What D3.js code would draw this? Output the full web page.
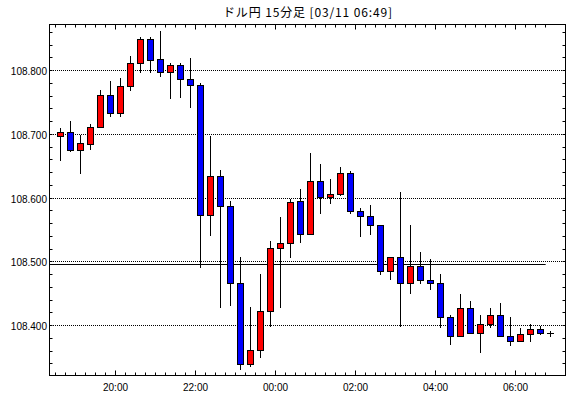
<!DOCTYPE html>
<html>
<head>
<meta charset="utf-8">
<script src="https://cdn.jsdelivr.net/npm/d3@7"></script>
<style>
  body { margin: 0; background: #fff; }
  text { font-family: "Liberation Sans", Arial, sans-serif; }
</style>
</head>
<body>
<div id="chart"></div>
<script>
// USD/JPY 15 minute candles, 03/10 18:30 - 03/11 06:45
var title = "ドル円 15分足 [03/11 06:49]";
var firstCandle = "2019-03-10T18:30:00Z";
var opens  = [108.698,108.703,108.676,108.685,108.712,108.762,108.734,108.775,108.811,108.849,
              108.818,108.797,108.809,108.786,108.778,108.574,108.634,108.587,108.467,108.339,
              108.361,108.422,108.522,108.529,108.595,108.543,108.627,108.602,108.606,108.640,
              108.580,108.571,108.558,108.486,108.507,108.466,108.493,108.472,108.467,108.414,
              108.383,108.428,108.389,108.402,108.417,108.383,108.375,108.386,108.395,108.388];
var highs  = [108.710,108.721,108.699,108.716,108.769,108.783,108.788,108.822,108.852,108.852,
              108.862,108.812,108.811,108.819,108.780,108.697,108.644,108.595,108.507,108.429,
              108.481,108.533,108.570,108.599,108.614,108.670,108.653,108.630,108.648,108.642,
              108.584,108.589,108.558,108.507,108.609,108.557,108.515,108.504,108.481,108.416,
              108.449,108.438,108.417,108.427,108.436,108.413,108.396,108.402,108.400,108.391];
var lows   = [108.660,108.674,108.640,108.677,108.711,108.728,108.729,108.770,108.798,108.798,
              108.791,108.757,108.759,108.743,108.492,108.542,108.429,108.432,108.332,108.336,
              108.351,108.400,108.429,108.508,108.531,108.543,108.577,108.592,108.605,108.577,
              108.541,108.544,108.481,108.473,108.400,108.451,108.466,108.458,108.398,108.371,
              108.383,108.389,108.359,108.397,108.383,108.370,108.375,108.375,108.386,108.384];
var closes = [108.703,108.676,108.686,108.712,108.762,108.734,108.775,108.811,108.849,108.817,
              108.797,108.809,108.786,108.777,108.573,108.635,108.587,108.467,108.339,108.361,
              108.422,108.522,108.529,108.593,108.543,108.627,108.602,108.606,108.640,108.580,
              108.571,108.558,108.486,108.507,108.466,108.493,108.472,108.467,108.414,108.383,
              108.428,108.389,108.402,108.417,108.383,108.375,108.386,108.395,108.389,108.388];
var priceLabels = [108.4, 108.5, 108.6, 108.7, 108.8];
var refLevel = 108.4958;
var refEnd = "2019-03-11T06:45:00Z";
var xStart = "2019-03-10T18:20:00Z", xEnd = "2019-03-11T07:14:00Z";
var yMin = 108.32157, yMax = 108.87216;

var W = 570, H = 398;
var margin = {left: 49, right: 565, top: 24, bottom: 375};

var svg = d3.select("#chart").append("svg")
    .attr("width", W)
    .attr("height", H);

var x = d3.scaleUtc()
    .domain([new Date(xStart), new Date(xEnd)])
    .range([margin.left, margin.right]);
var y = d3.scaleLinear()
    .domain([yMin, yMax])
    .range([margin.bottom + 0.5, margin.top + 0.5]);

function px(v) { return Math.floor(v) + 0.5; }

var t0 = new Date(firstCandle);
var candles = opens.map(function(o, i) {
    var t = d3.utcMinute.offset(t0, i * 15);
    return { t: t, mid: new Date(t.getTime() + 7.5 * 60000), o: o, h: highs[i], l: lows[i], c: closes[i] };
});

// grid
svg.append("g").selectAll("line")
    .data(priceLabels)
    .enter().append("line")
    .attr("x1", margin.left).attr("x2", margin.right + 1)
    .attr("y1", function(d) { return px(y(d)); })
    .attr("y2", function(d) { return px(y(d)); })
    .attr("stroke", "#000")
    .attr("stroke-dasharray", "1,1");

svg.append("line")
    .attr("x1", margin.left).attr("x2", x(new Date(refEnd)))
    .attr("y1", px(y(refLevel))).attr("y2", px(y(refLevel)))
    .attr("stroke", "#000");

// candles
var g = svg.append("g").selectAll("g")
    .data(candles)
    .enter().append("g");

g.append("line")
    .attr("x1", function(d) { return px(x(d.mid)); })
    .attr("x2", function(d) { return px(x(d.mid)); })
    .attr("y1", function(d) { return Math.round(y(d.h)); })
    .attr("y2", function(d) { return Math.round(y(d.l)) + 1; })
    .attr("stroke", "#000");

g.filter(function(d) { return Math.round(y(d.o)) != Math.round(y(d.c)); })
    .append("rect")
    .attr("x", function(d) { return px(x(d.mid)) - 3; })
    .attr("width", 6)
    .attr("y", function(d) { return Math.round(y(Math.max(d.o, d.c))) + 0.5; })
    .attr("height", function(d) { return Math.round(y(Math.min(d.o, d.c))) - Math.round(y(Math.max(d.o, d.c))); })
    .attr("fill", function(d) { return d.c > d.o ? "#ff0000" : "#0000ff"; })
    .attr("stroke", "#000");

g.filter(function(d) { return Math.round(y(d.o)) == Math.round(y(d.c)); })
    .append("line")
    .attr("x1", function(d) { return px(x(d.mid)) - 3.5; })
    .attr("x2", function(d) { return px(x(d.mid)) + 3.5; })
    .attr("y1", function(d) { return px(y(d.o)); })
    .attr("y2", function(d) { return px(y(d.o)); })
    .attr("stroke", "#000");

// frame and ticks
svg.append("rect")
    .attr("x", margin.left + 0.5).attr("y", margin.top + 0.5)
    .attr("width", margin.right - margin.left).attr("height", margin.bottom - margin.top)
    .attr("fill", "none")
    .attr("stroke", "#000");

var minorT = d3.utcMinute.every(15).range(new Date(firstCandle), new Date(new Date(refEnd).getTime() + 1));
var majorT = d3.utcHour.every(2).range(new Date(firstCandle), new Date(refEnd));
var minorP = d3.range(17, 44).map(function(k) { return k * 0.02 + 108; });

var ticks = svg.append("g").attr("stroke", "#000");
minorT.forEach(function(t) {
    var len = majorT.some(function(m) { return +m == +t; }) ? 5 : 3;
    ticks.append("line").attr("x1", px(x(t))).attr("x2", px(x(t)))
        .attr("y1", margin.bottom + 0.5).attr("y2", margin.bottom + 0.5 - len);
    ticks.append("line").attr("x1", px(x(t))).attr("x2", px(x(t)))
        .attr("y1", margin.top + 0.5).attr("y2", margin.top + 0.5 + len);
});
minorP.forEach(function(p) {
    if (y(p) < margin.top + 2 || y(p) > margin.bottom - 1) return;
    ticks.append("line").attr("x1", margin.left + 0.5).attr("x2", margin.left + 3.5)
        .attr("y1", px(y(p))).attr("y2", px(y(p)));
    ticks.append("line").attr("x1", margin.right + 0.5).attr("x2", margin.right - 2.5)
        .attr("y1", px(y(p))).attr("y2", px(y(p)));
});

// labels
var fmt = d3.format(".3f");
svg.append("g").selectAll("text")
    .data(priceLabels)
    .enter().append("text")
    .attr("x", 47)
    .attr("y", function(d) { return px(y(d)) + 4; })
    .attr("text-anchor", "end")
    .attr("font-size", 10)
    .text(function(d) { return fmt(d); });

svg.append("g").selectAll("text")
    .data(majorT)
    .enter().append("text")
    .attr("x", function(d) { return px(x(d)); })
    .attr("y", 390.5)
    .attr("text-anchor", "middle")
    .attr("font-size", 10)
    .text(d3.utcFormat("%H:%M"));

svg.append("text")
    .attr("x", 307.5)
    .attr("y", 17)
    .attr("text-anchor", "middle")
    .attr("font-size", 12)
    .attr("textLength", 169)
    .attr("lengthAdjust", "spacing")
    .style("font-family", "'Noto Sans CJK JP', sans-serif")
    .text(title);
</script>
</body>
</html>
